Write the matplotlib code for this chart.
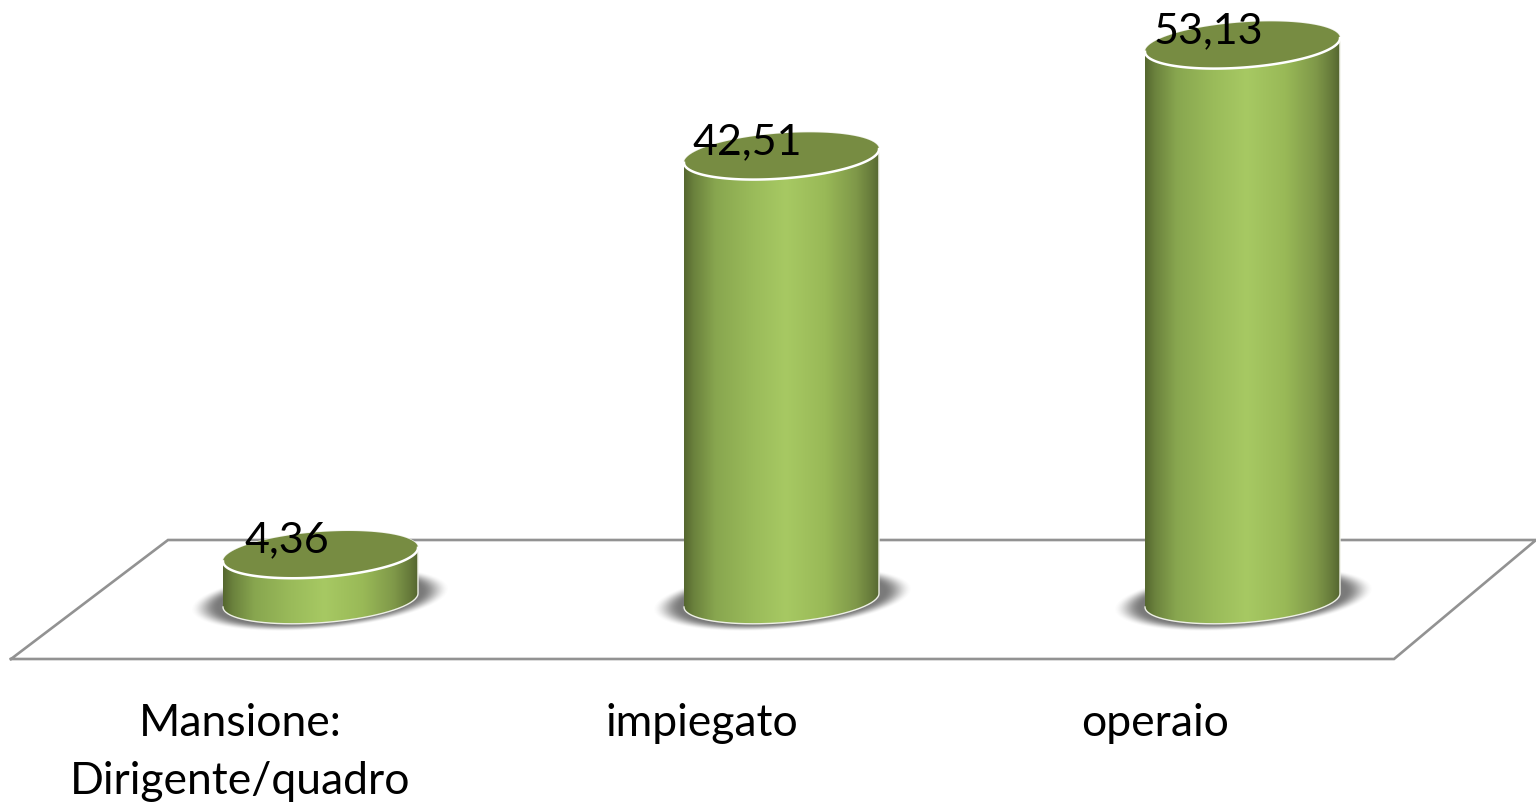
import matplotlib
matplotlib.use("Agg")
import matplotlib.pyplot as plt
import numpy as np
from matplotlib.colors import LinearSegmentedColormap

categories = ["Mansione:\nDirigente/quadro", "impiegato", "operaio"]
values = [4.36, 42.51, 53.13]
value_labels = ["4,36", "42,51", "53,13"]
label_offset_px = [-80, -80, -87]

W, H = 1536, 802
px_per_cat = 461.0   # distanza fra le barre in pixel
px_per_val = 10.45   # pixel per unita
x0_px = 320.5
y0_px = 600.2

def xd(px):
    return (px - x0_px) / px_per_cat

def yd(py):
    return (y0_px - py) / px_per_val

bar_w = 195 / px_per_cat
ell_h = 22.6 / px_per_val
shear = 6.8 / px_per_val   # inclinazione dell'ellisse

body_cmap = LinearSegmentedColormap.from_list("body", [
    (0.00, "#55672f"), (0.05, "#6b823d"), (0.16, "#88a64f"), (0.35, "#9abb5a"),
    (0.52, "#a7c963"), (0.72, "#99b957"), (0.88, "#7f9849"), (0.96, "#667a3a"), (1.00, "#556630")])

fig = plt.figure(figsize=(W / 100, H / 100), dpi=100)
ax = fig.add_axes([0, 0, 1, 1])
ax.set_axis_off()

# piano di base
fx = [11, 1394, 1536, 168, 11]
fy = [659, 659, 540, 540, 659]
ax.plot([xd(p) for p in fx], [yd(p) for p in fy], color="#929292", lw=1.9, zorder=1,
        solid_joinstyle="miter", clip_on=False)

def ellipse(cx, cy, t):
    xs = cx + bar_w / 2 * np.cos(t)
    ys = cy + ell_h * np.sin(t) + shear * np.cos(t)
    return xs, ys

for i, v in enumerate(values):
    z = 2 + i * 3
    # ombra
    gx, gy = np.meshgrid(np.linspace(-160, 160, 320), np.linspace(-60, 60, 120))
    r = np.sqrt((gx / 130.0) ** 2 + ((gy + 0.08 * gx + 1) / 31.0) ** 2)
    a = np.clip((1 - r) / 0.22, 0, 1)
    a = a * a * (3 - 2 * a) * 0.78
    rgba = np.zeros(gx.shape + (4,))
    rgba[..., :3] = 0.33
    rgba[..., 3] = a
    ax.imshow(rgba, origin="upper", aspect="auto", zorder=z, interpolation="bilinear",
              extent=[i - 160 / px_per_cat, i + 160 / px_per_cat, -60 / px_per_val, 60 / px_per_val])

    # corpo del cilindro
    t1 = np.linspace(np.pi, 2 * np.pi, 80)
    t2 = np.linspace(0, np.pi, 80)
    bx, by = ellipse(i, 0, t1)
    tx, ty = ellipse(i, v, t2)
    px = np.r_[bx, tx]
    py = np.r_[by, ty]
    poly, = ax.fill(px, py, facecolor="none", edgecolor="none", zorder=z + 1)
    grad = np.linspace(0, 1, 256).reshape(1, -1)
    im = ax.imshow(grad, cmap=body_cmap, aspect="auto", zorder=z + 1,
                   extent=[i - bar_w / 2, i + bar_w / 2, -5, v + 5])
    im.set_clip_path(poly)
    ax.plot(px, py, color="#eef0e6", lw=1.0, zorder=z + 1)

    # faccia superiore
    t = np.linspace(0, 2 * np.pi, 160)
    ex, ey = ellipse(i, v, t)
    ax.fill(ex, ey, facecolor="#778c42", edgecolor="none", zorder=z + 2)
    t3 = np.linspace(np.pi, 2 * np.pi, 80)
    ex, ey = ellipse(i, v, t3)
    ax.plot(ex, ey, color="white", lw=1.8, zorder=z + 2)

ax.set_xlim(xd(0), xd(W))
ax.set_ylim(yd(H), yd(0))

# etichette dei valori
for i, v in enumerate(values):
    ax.text(i - 34 / px_per_cat, v + 14 / px_per_val, value_labels[i], ha="center", va="center",
            fontsize=31, family="Lato", color="black", zorder=30)

# etichette delle categorie
for i, c in enumerate(categories):
    lx = i + label_offset_px[i] / px_per_cat
    ax.text(lx, yd(723), c.split("\n")[0], ha="center", va="center",
            fontsize=32, family="Lato", color="black", zorder=30)
    if "\n" in c:
        ax.text(lx, yd(781), c.split("\n")[1], ha="center", va="center",
                fontsize=32, family="Lato", color="black", zorder=30)

fig.savefig("out.png", dpi=100, facecolor="white")
